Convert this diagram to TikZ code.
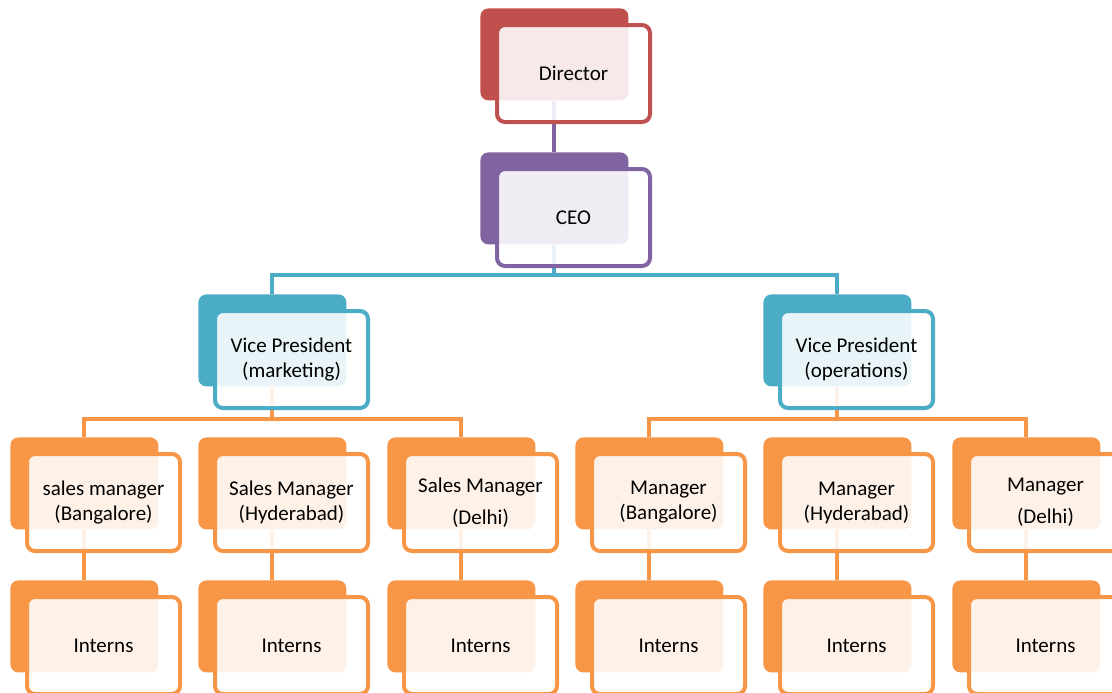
\documentclass[tikz,border=0pt]{standalone}
\usepackage{fontspec}
\setmainfont{Carlito}
\definecolor{dirred}{HTML}{C0504D}
\definecolor{ceopurple}{HTML}{8064A2}
\definecolor{vpblue}{HTML}{4BACC6}
\definecolor{mgrorange}{HTML}{F79646}

\begin{document}
\begin{tikzpicture}[x = 0.5pt, y = -0.5pt,
    back/.style = {rectangle, rounded corners = 4pt, fill = #1, anchor = north west, inner sep = 0pt, minimum width = 74pt, minimum height = 46pt},
    front/.style = {rectangle, rounded corners = 4pt, draw = #1, line width = 2pt, fill = white, fill opacity = 0.88, text opacity = 1, anchor = north west, inner sep = 0pt, minimum width = 76.5pt, minimum height = 48.5pt, align = center, font = \fontsize{10.5}{12.5}\selectfont},
    link/.style = {draw = #1, line width = 2pt}]
    \clip (0,0) rectangle (1112,692);
    \node[back = dirred] (d0) at (480,8) {};
    \node[back = ceopurple] (c0) at (480,152) {};
    \node[back = vpblue] (v1) at (198,294) {};
    \node[back = vpblue] (v2) at (763,294) {};
    \foreach \x [count = \k] in {10,198,387,575,763,952} {
        \node[back = mgrorange] (m\k) at (\x,437) {};
        \node[back = mgrorange] (i\k) at (\x,580) {};
    }
    \draw[link = ceopurple] (d0.south) -- (c0.north);
    \draw[link = vpblue] (c0.south) -- ++(0,30) -| (v1.north) (c0.south) ++(0,30) -| (v2.north);
    \draw[link = mgrorange] (v1.south) -- ++(0,32) -| (m1.north) (v1.south) ++(0,32) -| (m3.north);
    \draw[link = mgrorange] (v2.south) -- ++(0,32) -| (m4.north) (v2.south) ++(0,32) -| (m6.north);
    \foreach \k in {1,...,6} {
        \draw[link = mgrorange] (m\k.south) -- (i\k.north);
    }
    \node[front = dirred] (d) at ([shift = {(15,15)}]d0.north west) {Director};
    \node[front = ceopurple] (c) at ([shift = {(15,15)}]c0.north west) {CEO};
    \node[front = vpblue] (vp1) at ([shift = {(15,15)}]v1.north west) {Vice President\\(marketing)};
    \node[front = vpblue] (vp2) at ([shift = {(15,15)}]v2.north west) {Vice President\\(operations)};
    \foreach \k/\txt in {1/{sales manager\\(Bangalore)}, 2/{Sales Manager\\(Hyderabad)}, 3/{Sales Manager\\[3.5pt](Delhi)}, 4/{Manager\\(Bangalore)}, 5/{Manager\\(Hyderabad)}, 6/{Manager\\[3.5pt](Delhi)}} {
        \node[front = mgrorange] (mf\k) at ([shift = {(15,15)}]m\k.north west) {\txt};
        \node[front = mgrorange] (if\k) at ([shift = {(15,15)}]i\k.north west) {Interns};
    }
\end{tikzpicture}
\end{document}
